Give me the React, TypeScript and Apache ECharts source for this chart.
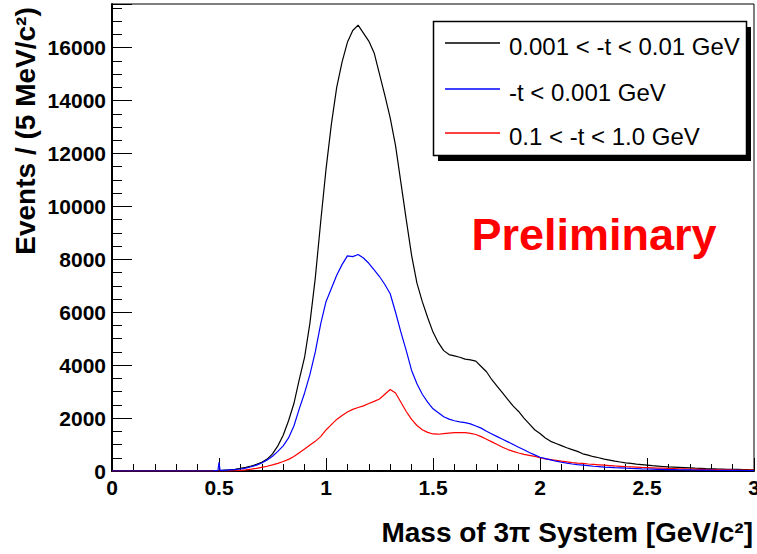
import React, { useEffect, useRef } from "react";
import * as echarts from "echarts";

// Bin centres (GeV/c^2)
const masses = [
  0, 0.45, 0.475, 0.495, 0.5, 0.505,
  0.525, 0.55, 0.575, 0.6,
  0.625, 0.65, 0.675, 0.7,
  0.725, 0.75, 0.775, 0.8,
  0.825, 0.85, 0.875, 0.9,
  0.925, 0.95, 0.975, 1.0,
  1.025, 1.05, 1.075, 1.1,
  1.125, 1.15, 1.175, 1.2,
  1.225, 1.25, 1.275, 1.3,
  1.325, 1.35, 1.375, 1.4,
  1.425, 1.45, 1.475, 1.5,
  1.525, 1.55, 1.575, 1.6,
  1.625, 1.65, 1.675, 1.7,
  1.725, 1.75, 1.775, 1.8,
  1.825, 1.85, 1.875, 1.9,
  1.925, 1.95, 1.975, 2.0,
  2.025, 2.05, 2.075, 2.1,
  2.125, 2.15, 2.175, 2.2,
  2.225, 2.25, 2.275, 2.3,
  2.325, 2.35, 2.375, 2.4,
  2.425, 2.45, 2.475, 2.5,
  2.525, 2.55, 2.575, 2.6,
  2.625, 2.65, 2.675, 2.7,
  2.725, 2.75, 2.775, 2.8,
  2.825, 2.85, 2.875, 2.9,
  2.925, 2.95, 2.975, 3.0,
];

// 0.001 < -t < 0.01 GeV
const blackVals = [
  0, 0, 5, 12, 15, 18,
  30, 45, 65, 100,
  140, 190, 250, 330,
  450, 650, 950, 1350,
  1900, 2550, 3450, 4300,
  5600, 7300, 9400, 11400,
  13100, 14500, 15450, 16200,
  16650, 16850, 16550, 16250,
  15800, 15000, 14200, 13350,
  12300, 10900, 9500, 8150,
  7100, 6400, 5800, 5250,
  4850, 4550, 4400, 4350,
  4300, 4230, 4200, 4150,
  3950, 3750, 3450, 3200,
  2950, 2700, 2450, 2250,
  2000, 1780, 1560, 1420,
  1250, 1120, 1040, 960,
  880, 810, 740, 650,
  600, 540, 500, 450,
  410, 370, 340, 310,
  285, 260, 240, 220,
  200, 185, 170, 155,
  145, 135, 125, 115,
  105, 98, 90, 85,
  78, 72, 66, 62,
  58, 54, 50, 48,
];

// -t < 0.001 GeV
const blueVals = [
  0, 0, 5, 20, 330, 25,
  25, 40, 55, 75,
  110, 160, 220, 300,
  420, 560, 740, 950,
  1250, 1700, 2350, 2950,
  3650, 4500, 5550, 6400,
  6900, 7400, 7800, 8130,
  8100, 8180, 8050, 7850,
  7600, 7350, 7050, 6700,
  6000, 5250, 4550, 3800,
  3300, 2900, 2600, 2350,
  2200, 2050, 1960, 1900,
  1860, 1830, 1780, 1700,
  1620, 1500, 1400, 1300,
  1200, 1100, 1000, 900,
  800, 700, 610, 520,
  470, 420, 370, 330,
  295, 265, 240, 220,
  200, 180, 165, 150,
  138, 125, 115, 105,
  97, 90, 82, 75,
  70, 65, 60, 55,
  51, 47, 43, 40,
  37, 34, 32, 30,
  28, 26, 24, 22,
  20, 18, 16, 15,
];

// 0.1 < -t < 1.0 GeV
const redVals = [
  0, 0, 0, 0, 0, 0,
  0, 5, 10, 25,
  45, 70, 100, 140,
  180, 230, 290, 360,
  440, 550, 690, 830,
  980, 1120, 1300, 1550,
  1750, 1950, 2100, 2230,
  2330, 2400, 2460, 2550,
  2630, 2720, 2900, 3080,
  2950, 2600, 2250, 1950,
  1720, 1560, 1460, 1400,
  1390, 1410, 1430, 1450,
  1450, 1450, 1420, 1380,
  1300, 1200, 1100, 1000,
  900, 810, 740, 680,
  630, 590, 550, 500,
  460, 430, 400, 370,
  345, 320, 300, 285,
  265, 250, 235, 220,
  205, 190, 178, 165,
  155, 145, 135, 128,
  120, 112, 105, 98,
  92, 85, 80, 75,
  70, 65, 60, 56,
  52, 48, 44, 40,
  37, 34, 32, 30,
];

const legendNames = ["0.001 < -t < 0.01 GeV", "-t < 0.001 GeV", "0.1 < -t < 1.0 GeV"];
const legendColors = ["#000000", "#0000ff", "#ff0000"];

const FONT = '"Liberation Sans", Arial, Helvetica, sans-serif';

function pairs(vals: number[]) {
  return masses.map((m, i) => [m, vals[i]]);
}

export default function App() {
  const ref = useRef<HTMLDivElement>(null);
  useEffect(() => {
    if (!ref.current) return;
    const chart = echarts.init(ref.current, undefined, { renderer: "svg" });

    const legendY = [43, 89, 133];
    const legendGraphics: any[] = [
      { type: "rect", shape: { x: 438, y: 27, width: 313, height: 134 }, style: { fill: "#000" }, z: 10 },
      { type: "rect", shape: { x: 433.5, y: 21.5, width: 313, height: 134 }, style: { fill: "#fff", stroke: "#000", lineWidth: 1.5 }, z: 11 },
    ];
    legendNames.forEach((name, i) => {
      legendGraphics.push({
        type: "line",
        shape: { x1: 445, y1: legendY[i], x2: 500, y2: legendY[i] },
        style: { stroke: legendColors[i], lineWidth: 1.6 },
        z: 12,
      });
      legendGraphics.push({
        type: "text",
        x: 509,
        y: legendY[i] + 3,
        style: { text: name, fill: "#000", font: `24px ${FONT}`, align: "left", verticalAlign: "middle" },
        z: 12,
      });
    });

    const option: any = {
      animation: false,
      backgroundColor: "#ffffff",
      grid: {
        left: 112,
        right: 3,
        top: 4,
        bottom: 83,
        show: true,
        borderColor: "#000",
        borderWidth: 1,
        containLabel: false,
        outerBoundsMode: "none",
      },
      xAxis: {
        type: "value",
        min: 0,
        max: 3,
        interval: 0.5,
        axisLine: { show: true, onZero: false, lineStyle: { color: "#000", width: 2 } },
        axisTick: { show: true, inside: true, length: 13, lineStyle: { color: "#000", width: 1 } },
        minorTick: { show: true, splitNumber: 5, length: 7, lineStyle: { color: "#000", width: 1 } },
        splitLine: { show: false },
        axisLabel: {
          margin: 6,
          color: "#000",
          fontFamily: FONT,
          fontWeight: "bold",
          fontSize: 21,
          showMaxLabel: true,
          showMinLabel: true,
          formatter: (v: number) => String(v),
        },
      },
      yAxis: {
        type: "value",
        min: 0,
        max: 17650,
        interval: 2000,
        axisLine: { show: true, onZero: false, lineStyle: { color: "#000", width: 2 } },
        axisTick: { show: true, inside: true, length: 20, lineStyle: { color: "#000", width: 1 } },
        minorTick: { show: true, splitNumber: 4, length: 10, lineStyle: { color: "#000", width: 1 } },
        splitLine: { show: false },
        axisLabel: {
          margin: 6,
          color: "#000",
          fontFamily: FONT,
          fontWeight: "bold",
          fontSize: 21,
          showMaxLabel: false,
          formatter: (v: number) => (v % 2000 === 0 ? String(v) : ""),
        },
      },
      series: [
        {
          name: legendNames[0],
          type: "line",
          data: pairs(blackVals),
          showSymbol: false,
          symbol: "none",
          lineStyle: { color: legendColors[0], width: 1.2 },
          itemStyle: { color: legendColors[0] },
          z: 3,
        },
        {
          name: legendNames[2],
          type: "line",
          data: pairs(redVals),
          showSymbol: false,
          symbol: "none",
          lineStyle: { color: legendColors[2], width: 1.2 },
          itemStyle: { color: legendColors[2] },
          z: 4,
        },
        {
          name: legendNames[1],
          type: "line",
          data: pairs(blueVals),
          showSymbol: false,
          symbol: "none",
          lineStyle: { color: legendColors[1], width: 1.2 },
          itemStyle: { color: legendColors[1] },
          z: 5,
        },
      ],
      graphic: [
        ...legendGraphics,
        {
          type: "text",
          x: 594,
          y: 234,
          style: {
            text: "Preliminary",
            fill: "#ff0000",
            font: `bold 45px ${FONT}`,
            align: "center",
            verticalAlign: "middle",
          },
          z: 12,
        },
        {
          type: "text",
          x: 753,
          y: 532,
          style: {
            text: "Mass of 3π System [GeV/c²]",
            fill: "#000",
            font: `bold 28px ${FONT}`,
            align: "right",
            verticalAlign: "middle",
          },
          z: 12,
        },
        {
          type: "text",
          x: 25,
          y: 131,
          rotation: Math.PI / 2,
          style: {
            text: "Events / (5 MeV/c²)",
            fill: "#000",
            font: `bold 28px ${FONT}`,
            align: "center",
            verticalAlign: "middle",
          },
          z: 12,
        },
      ],
    };
    chart.setOption(option);
    return () => chart.dispose();
  }, []);
  return (
    <div
      ref={ref}
      style={{ position: "absolute", left: 0, top: 0, width: 757, height: 554, background: "#fff" }}
    />
  );
}
